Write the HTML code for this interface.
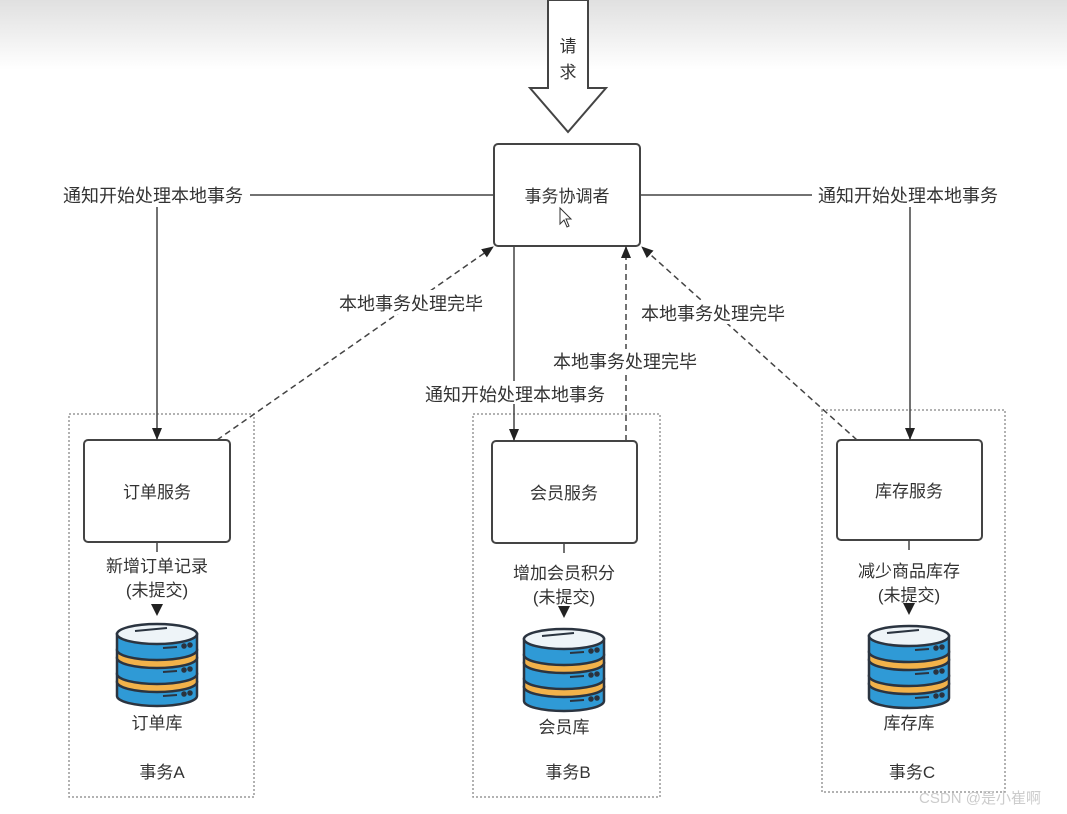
<!DOCTYPE html>
<html><head><meta charset="utf-8"><style>
body{margin:0;width:1067px;height:814px;overflow:hidden;background:#fff}
svg{display:block}
text{font-family:"Liberation Sans","Noto Sans CJK SC",sans-serif;font-size:17px;fill:#333}
.l{font-size:18px}
</style></head><body>
<svg width="1067" height="814" viewBox="0 0 1067 814">
<defs>
<linearGradient id="bg" x1="0" y1="0" x2="0" y2="1"><stop offset="0" stop-color="#e0e0e0"/><stop offset="1" stop-color="#fff"/></linearGradient>
<marker id="ah" markerWidth="12" markerHeight="12" refX="11" refY="6" orient="auto" markerUnits="userSpaceOnUse"><path d="M0,1 L12,6 L0,11 Z" fill="#222"/></marker>
<g id="db" stroke="#2b3440" stroke-width="2.5">
<path d="M-40,60 L-40,74 A40,10 0 0 0 40,74 L40,60 Z" fill="#2f9ad6"/>
<path d="M-40,52 L-40,60 A40,10 0 0 0 40,60 L40,52 Z" fill="#f2b24a"/>
<path d="M-40,36 L-40,52 A40,10 0 0 0 40,52 L40,36 Z" fill="#2f9ad6"/>
<path d="M-40,28 L-40,36 A40,10 0 0 0 40,36 L40,28 Z" fill="#f2b24a"/>
<path d="M-40,12 L-40,28 A40,10 0 0 0 40,28 L40,12 Z" fill="#2f9ad6"/>
<ellipse cx="0" cy="12" rx="40" ry="10" fill="#eef4f8"/>
<path d="M-22,9 L10,6" stroke-width="2"/>
<path d="M6,26 L20,25 M6,50 L20,49 M6,74 L20,73" stroke-width="2"/>
<circle cx="27" cy="24" r="1.5"/><circle cx="33" cy="23" r="1.5"/>
<circle cx="27" cy="48" r="1.5"/><circle cx="33" cy="47" r="1.5"/>
<circle cx="27" cy="72" r="1.5"/><circle cx="33" cy="71" r="1.5"/>
</g>
</defs>
<rect x="0" y="0" width="1067" height="70" fill="url(#bg)"/>
<path d="M548,0 L588,0 L588,88 L606,88 L568,132 L530,88 L548,88 Z" fill="#fff" stroke="#444" stroke-width="2"/>
<text x="568" y="52" text-anchor="middle">请</text>
<text x="568" y="78" text-anchor="middle">求</text>
<g fill="none" stroke="#999" stroke-width="1.5" stroke-dasharray="2,2">
<rect x="69" y="414" width="185" height="383"/>
<rect x="473" y="414" width="187" height="383"/>
<rect x="822" y="410" width="183" height="382"/>
</g>
<g fill="#fff" stroke="#444" stroke-width="2">
<rect x="494" y="144" width="146" height="102" rx="4"/>
<rect x="84" y="440" width="146" height="102" rx="4"/>
<rect x="492" y="441" width="145" height="102" rx="4"/>
<rect x="837" y="440" width="145" height="100" rx="4"/>
</g>
<text x="567" y="202" text-anchor="middle">事务协调者</text>
<path d="M560,208 L560,224 L564,220 L567,227 L569,226 L566,219 L571,219 Z" fill="#fff" stroke="#333" stroke-width="1"/>
<text x="157" y="498" text-anchor="middle">订单服务</text>
<text x="564" y="499" text-anchor="middle">会员服务</text>
<text x="909" y="497" text-anchor="middle">库存服务</text>
<g stroke="#444" stroke-width="1.5" fill="none">
<line x1="250" y1="195" x2="494" y2="195"/>
<line x1="640" y1="195" x2="812" y2="195"/>
<line x1="157" y1="207" x2="157" y2="439" marker-end="url(#ah)"/>
<line x1="910" y1="207" x2="910" y2="439" marker-end="url(#ah)"/>
<line x1="514" y1="246" x2="514" y2="381"/>
<line x1="514" y1="404" x2="514" y2="440" marker-end="url(#ah)"/>
</g>
<g stroke="#444" stroke-width="1.5" fill="none" stroke-dasharray="6,4">
<line x1="217" y1="440" x2="493" y2="247" marker-end="url(#ah)"/>
<line x1="626" y1="441" x2="626" y2="373"/>
<line x1="626" y1="350" x2="626" y2="247" marker-end="url(#ah)"/>
<line x1="857" y1="440" x2="642" y2="247" marker-end="url(#ah)"/>
</g>
<rect x="333" y="290" width="155" height="24" fill="#fff"/>
<rect x="636" y="300" width="154" height="24" fill="#fff"/>
<rect x="548" y="349" width="154" height="24" fill="#fff"/>
<text class="l" x="153" y="202" text-anchor="middle">通知开始处理本地事务</text>
<text class="l" x="908" y="202" text-anchor="middle">通知开始处理本地事务</text>
<text class="l" x="515" y="401" text-anchor="middle">通知开始处理本地事务</text>
<text class="l" x="411" y="310" text-anchor="middle">本地事务处理完毕</text>
<text class="l" x="713" y="320" text-anchor="middle">本地事务处理完毕</text>
<text class="l" x="625" y="368" text-anchor="middle">本地事务处理完毕</text>
<g stroke="#444" stroke-width="1.5">
<line x1="157" y1="542" x2="157" y2="552"/>
<line x1="564" y1="543" x2="564" y2="553"/>
<line x1="909" y1="540" x2="909" y2="550"/>
</g>
<g fill="#222">
<path d="M151,604 L163,604 L157,616 Z"/>
<path d="M558,606 L570,606 L564,618 Z"/>
<path d="M903,603 L915,603 L909,615 Z"/>
</g>
<text x="157" y="572" text-anchor="middle">新增订单记录</text>
<text x="157" y="596" text-anchor="middle">(未提交)</text>
<text x="564" y="579" text-anchor="middle">增加会员积分</text>
<text x="564" y="603" text-anchor="middle">(未提交)</text>
<text x="909" y="577" text-anchor="middle">减少商品库存</text>
<text x="909" y="601" text-anchor="middle">(未提交)</text>
<use href="#db" x="157" y="622"/>
<use href="#db" x="564" y="627"/>
<use href="#db" x="909" y="624"/>
<text x="157" y="729" text-anchor="middle">订单库</text>
<text x="564" y="733" text-anchor="middle">会员库</text>
<text x="909" y="729" text-anchor="middle">库存库</text>
<text x="162" y="778" text-anchor="middle">事务A</text>
<text x="568" y="778" text-anchor="middle">事务B</text>
<text x="912" y="778" text-anchor="middle">事务C</text>
<text x="980" y="803" text-anchor="middle" style="font-size:15px;fill:#ccc">CSDN @是小崔啊</text>
</svg>
</body></html>
